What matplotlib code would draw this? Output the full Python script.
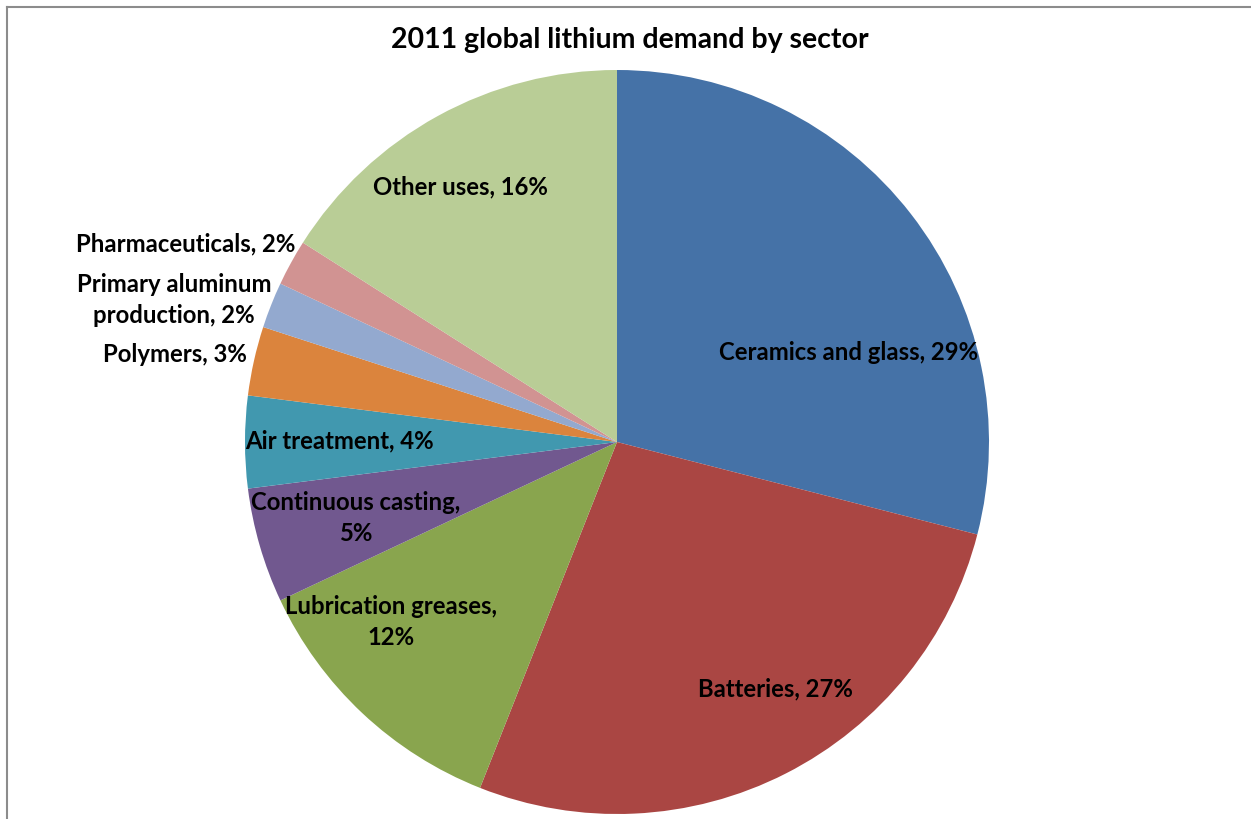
import matplotlib
matplotlib.use("Agg")
import matplotlib.pyplot as plt
from matplotlib.lines import Line2D

sectors = ["Ceramics and glass", "Batteries", "Lubrication greases", "Continuous casting",
           "Air treatment", "Polymers", "Primary aluminum production", "Pharmaceuticals", "Other uses"]
shares = [29, 27, 12, 5, 4, 3, 2, 2, 16]
label_texts = ["Ceramics and glass, 29%", "Batteries, 27%", "Lubrication greases,\n12%",
               "Continuous casting,\n5%", "Air treatment, 4%", "Polymers, 3%",
               "Primary aluminum\nproduction, 2%", "Pharmaceuticals, 2%", "Other uses, 16%"]
colors = ["#4572A7", "#AA4643", "#89A54E", "#71588F", "#4198AF", "#DB843D",
          "#93A9CF", "#D19392", "#B9CD96"]

W, H = 1251, 819
fig = plt.figure(figsize=(W / 100, H / 100), dpi=100)
fig.patch.set_facecolor("white")

cx, cy, r = 617, 442, 372
ax = fig.add_axes([(cx - r) / W, (H - cy - r) / H, 2 * r / W, 2 * r / H])
ax.pie(shares, colors=colors, startangle=90, counterclock=False, radius=1,
       wedgeprops=dict(linewidth=0))
ax.set_xlim(-1, 1)
ax.set_ylim(-1, 1)
ax.set_aspect("auto")
ax.axis("off")

def px(x, y):
    return ((x - cx) / r, (cy - y) / r)

font = dict(family=["Lato", "DejaVu Sans"], fontweight="bold", fontsize=17.2, color="black")
positions = [(849, 353, "center"), (775, 689, "center"), (391, 622, "center"),
             (356, 518, "center"), (339, 441, "center"), (247, 354, "right"),
             (174, 300, "center"), (186, 244, "center"), (460, 187, "center")]
for txt, (x, y, ha) in zip(label_texts, positions):
    dx, dy = px(x, y)
    ax.text(dx, dy, txt, ha=ha, va="center", multialignment="center",
            linespacing=1.38, clip_on=False, **font)

fig.text(630 / W, 1 - 40 / H, "2011 global lithium demand by sector", ha="center", va="center",
         family=["Lato", "DejaVu Sans"], fontweight="bold", fontsize=20.5, color="black")

fig.add_artist(Line2D([6.5 / W, 6.5 / W], [0, 1 - 6.5 / H], transform=fig.transFigure,
                      color="#8c8c8c", linewidth=1.5))
fig.add_artist(Line2D([6.5 / W, 1], [1 - 6.5 / H, 1 - 6.5 / H], transform=fig.transFigure,
                      color="#8c8c8c", linewidth=1.5))

fig.savefig("out.png", dpi=100)
